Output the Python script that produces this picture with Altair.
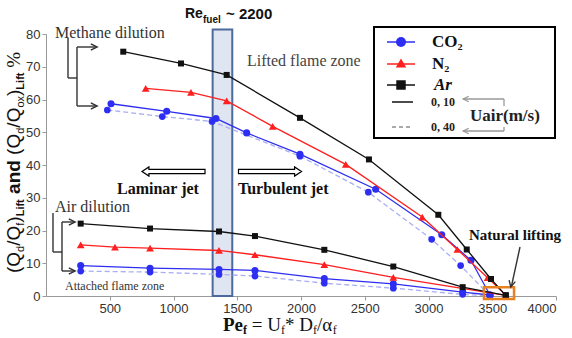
import altair as alt
import pandas as pd

# ---------------- data ----------------
# Methane dilution, (Qd/Qf)Lift %
meth_ar_pe = [606, 1059, 1417, 1992, 2533, 3077, 3300, 3490, 3606]
meth_ar_val = [74.6, 71.0, 67.5, 54.4, 41.7, 24.8, 14.2, 5.2, 0.2]
meth_n2_pe = [782, 1137, 1417, 1778, 2351, 2951, 3226, 3464, 3606]
meth_n2_val = [63.4, 62.2, 59.6, 51.8, 40.2, 24.1, 14.2, 5.6, 0.2]
meth_co2_u10_pe = [510, 947, 1333, 1574, 1992, 2586, 3104, 3333, 3482]
meth_co2_u10_val = [58.7, 56.4, 54.2, 49.8, 43.3, 32.6, 18.7, 10.9, 0.3]
meth_co2_u40_pe = [481, 912, 1302, 1992, 2528, 3025, 3252, 3482]
meth_co2_u40_val = [56.8, 54.8, 53.3, 42.7, 31.7, 17.3, 9.3, 0.0]
# Air dilution, (Qd/Qox)Lift %
air_ar_pe = [272, 816, 1357, 1639, 2183, 2724, 3268, 3606]
air_ar_val = [22.1, 20.6, 19.7, 18.3, 14.1, 9.0, 2.7, 0.2]
air_n2_pe = [272, 541, 816, 1357, 1639, 2183, 2724, 3606]
air_n2_val = [15.6, 14.9, 14.6, 13.9, 12.6, 9.6, 5.7, 0.2]
air_co2_u10_pe = [272, 816, 1357, 1639, 2183, 2724, 3268, 3482]
air_co2_u10_val = [9.3, 8.5, 8.1, 7.8, 5.3, 3.7, 1.2, 0.3]
air_co2_u40_pe = [272, 816, 1357, 1639, 2183, 2724, 3268, 3482]
air_co2_u40_val = [7.6, 7.3, 6.6, 6.1, 3.9, 2.4, 0.5, 0.0]

# Re_fuel ~ 2200 band and natural lifting box (data units)
re_band = {"lo": 1307, "hi": 1461, "bottom": 0, "top": 81.4}
lift_box = {"lo": 3435, "hi": 3671, "bottom": -0.9, "top": 2.7}

x_ticks = [500, 1000, 1500, 2000, 2500, 3000, 3500, 4000]
y_ticks = [0, 10, 20, 30, 40, 50, 60, 70, 80]

legend_gases = ["CO\u2082", "N\u2082", "Ar"]
legend_speeds = ["0, 10", "0, 40"]

# ---------------- styles ----------------
BLUE = "#2e2ef2"
RED = "#ff1f1f"
BLACK = "#111111"
LBLUE = "#a9aef3"
SERIF = "Liberation Serif"
SANS = "Liberation Sans"
PAD_L, PAD_T = 46, 34

xs = alt.Scale(domain=[0, 4000], nice=False, zero=False)
ys = alt.Scale(domain=[0, 80], nice=False, zero=False)
x_axis = alt.Axis(values=x_ticks, title=None, grid=False, format="d")
y_axis = alt.Axis(values=y_ticks, title=None, grid=False, format="d")

layers = []

# band
band_df = pd.DataFrame([re_band])
layers.append(
    alt.Chart(band_df).mark_rect(fill="#dfe5f1", stroke="#4d6a9c", strokeWidth=2)
    .encode(x=alt.X("lo:Q", scale=xs, axis=x_axis), x2="hi:Q",
            y=alt.Y("bottom:Q", scale=ys, axis=y_axis), y2="top:Q")
)


def series(pe, val, lcolor, mcolor, shape, msize, dash=None):
    df = pd.DataFrame({"pe": pe, "val": val})
    base = alt.Chart(df).encode(
        x=alt.X("pe:Q", scale=xs, axis=x_axis),
        y=alt.Y("val:Q", scale=ys, axis=y_axis),
    )
    lk = dict(color=lcolor, strokeWidth=1.3)
    if dash:
        lk["strokeDash"] = dash
    line = base.mark_line(**lk)
    pts_ = base.mark_point(shape=shape, filled=True, color=mcolor, size=msize, opacity=1)
    return [line, pts_]


layers += series(meth_co2_u40_pe, meth_co2_u40_val, LBLUE, BLUE, "circle", 45, [5, 3])
layers += series(air_co2_u40_pe, air_co2_u40_val, LBLUE, BLUE, "circle", 45, [5, 3])
layers += series(meth_co2_u10_pe, meth_co2_u10_val, BLUE, BLUE, "circle", 50)
layers += series(air_co2_u10_pe, air_co2_u10_val, BLUE, BLUE, "circle", 50)
layers += series(meth_n2_pe, meth_n2_val, RED, RED, "triangle-up", 60)
layers += series(air_n2_pe, air_n2_val, RED, RED, "triangle-up", 60)
layers += series(meth_ar_pe, meth_ar_val, BLACK, BLACK, "square", 36)
layers += series(air_ar_pe, air_ar_val, BLACK, BLACK, "square", 36)

# natural lifting box
box_df = pd.DataFrame([lift_box])
layers.append(
    alt.Chart(box_df).mark_rect(filled=False, stroke="#e8801e", strokeWidth=2.5, fillOpacity=0)
    .encode(x=alt.X("lo:Q", scale=xs, axis=x_axis), x2="hi:Q",
            y=alt.Y("bottom:Q", scale=ys, axis=y_axis), y2="top:Q")
)

# ---------------- page-pixel decorations (converted to plot-area pixels) ----------------
def PX(f):
    return alt.X(f, type="quantitative", scale=None, axis=None)


def PY(f):
    return alt.Y(f, type="quantitative", scale=None, axis=None)


def segs(rows, **kw):
    df = pd.DataFrame(rows, columns=["x", "y", "x2", "y2"])
    df[["x", "x2"]] -= PAD_L
    df[["y", "y2"]] -= PAD_T
    return alt.Chart(df).mark_rule(**kw).encode(x=PX("x"), y=PY("y"), x2="x2:Q", y2="y2:Q")


def texts(rows, **kw):
    df = pd.DataFrame(rows, columns=["t", "x", "y"])
    df["x"] -= PAD_L
    df["y"] -= PAD_T
    k = dict(align="left", baseline="middle")
    k.update(kw)
    return alt.Chart(df).mark_text(**k).encode(x=PX("x"), y=PY("y"), text="t:N")


def pts(rows, **kw):
    df = pd.DataFrame(rows, columns=["x", "y"])
    df["x"] -= PAD_L
    df["y"] -= PAD_T
    return alt.Chart(df).mark_point(**kw).encode(x=PX("x"), y=PY("y"))


CHEV_R = "M-1,-1L1,0L-1,1"
CHEV_L = "M1,-1L-1,0L1,1"
CHEV_D = "M-1,-1L0,1L1,-1"
ARROW_R = "M-1,-0.065L0.78,-0.065L0.78,-0.145L1,0L0.78,0.145L0.78,0.065L-1,0.065Z"
ARROW_L = "M1,-0.065L-0.78,-0.065L-0.78,-0.145L-1,0L-0.78,0.145L-0.78,0.065L1,0.065Z"

# brackets
layers.append(segs([
    (68, 38, 68, 78), (68, 78, 77, 78), (77, 47, 77, 106), (77, 47, 96, 47), (77, 106, 96, 106),
    (53, 213, 53, 252), (53, 252, 62, 252), (62, 222, 62, 271), (62, 222, 74, 222), (62, 271, 74, 271),
    (520, 247, 511.5, 286),
], color="#333333", strokeWidth=1.4))
layers.append(pts([(94, 47), (94, 106), (72, 222), (72, 271)], shape=CHEV_R, size=40,
                  filled=False, color="#333333", strokeWidth=1.4, opacity=1))
layers.append(pts([(511.5, 284)], shape=CHEV_D, size=40, angle=13,
                  filled=False, color="#333333", strokeWidth=1.4, opacity=1))

# laminar / turbulent hollow arrows
layers.append(pts([(173.5, 171.5)], shape=ARROW_L, size=3970, filled=True, fill="white",
                  stroke="black", strokeWidth=1.2, opacity=1))
layers.append(pts([(270, 171.5)], shape=ARROW_R, size=3970, filled=True, fill="white",
                  stroke="black", strokeWidth=1.2, opacity=1))

# annotation texts
layers.append(texts([("Methane dilution", 55, 33), ("Air dilution", 55, 207)],
                    font=SERIF, fontSize=16, color="#333333"))
layers.append(texts([("Lifted flame zone", 247, 61)], font=SERIF, fontSize=16, color="#444444"))
layers.append(texts([("Attached flame zone", 65, 286)], font=SERIF, fontSize=12, color="#333333"))
layers.append(texts([("Laminar jet", 117, 189), ("Turbulent jet", 238, 189)],
                    font=SERIF, fontSize=16, fontWeight="bold", color="#111111"))
layers.append(texts([("Natural lifting", 469, 235)], font=SERIF, fontSize=15,
                    fontWeight="bold", color="#111111"))

# Re_fuel ~ 2200 label
layers.append(texts([("Re", 185, 14)], font=SANS, fontSize=14, fontWeight="bold", color="#111111"))
layers.append(texts([("~ 2200", 226, 14)], font=SANS, fontSize=15, fontWeight="bold",
                    color="#111111"))
layers.append(texts([("fuel", 203, 20)], font=SANS, fontSize=10, fontWeight="bold", color="#111111"))

# ---------------- legend ----------------
leg_df = pd.DataFrame([(374, 27, 555, 138)], columns=["x", "y", "x2", "y2"])
leg_df[["x", "x2"]] -= PAD_L
leg_df[["y", "y2"]] -= PAD_T
layers.append(alt.Chart(leg_df).mark_rect(fill="white", stroke="black", strokeWidth=2)
              .encode(x=PX("x"), y=PY("y"), x2="x2:Q", y2="y2:Q"))
layers.append(segs([(387, 42, 415, 42)], color=BLUE, strokeWidth=1.5))
layers.append(segs([(387, 64, 415, 64)], color=RED, strokeWidth=1.5))
layers.append(segs([(387, 85, 415, 85), (392, 102, 413, 102)], color=BLACK, strokeWidth=1.5))
layers.append(segs([(392, 127, 413, 127)], color="#555555", strokeWidth=1.2, strokeDash=[4, 3]))
layers.append(pts([(401, 42)], shape="circle", size=100, filled=True, color=BLUE, opacity=1))
layers.append(pts([(401, 63)], shape="triangle-up", size=110, filled=True, color=RED, opacity=1))
layers.append(pts([(401, 85)], shape="square", size=90, filled=True, color=BLACK, opacity=1))
layers.append(texts([(legend_gases[0], 432, 42), (legend_gases[1], 432, 64)], font=SERIF,
                    fontSize=17, fontWeight="bold", color="#111111"))
layers.append(texts([(legend_gases[2], 434, 85)], font=SERIF, fontSize=17, fontWeight="bold",
                    fontStyle="italic", color="#111111"))
layers.append(texts([(legend_speeds[0], 431, 102), (legend_speeds[1], 431, 127)], font=SERIF,
                    fontSize=12, fontWeight="bold", color="#222222"))
layers.append(segs([(463, 99, 504, 99), (504, 99, 504, 106), (504, 127, 504, 131), (463, 131, 504, 131)],
                   color="#999999", strokeWidth=1.3))
layers.append(pts([(466, 99), (466, 131)], shape=CHEV_L, size=30, filled=False,
                  color="#999999", strokeWidth=1.3, opacity=1))
layers.append(texts([("Uair(m/s)", 470, 116)], font=SERIF, fontSize=17, fontWeight="bold",
                    color="#222222"))

# ---------------- axis titles built from runs (with subscripts) ----------------
W = {
    ("sans", "normal"): {"(": .333, "Q": .778, "/": .278, ")": .333, "d": .556, "f": .278,
                         "o": .556, "x": .5, " ": .278},
    ("sans", "bold"): {"L": .611, "i": .278, "f": .333, "t": .333, "a": .556, "n": .611,
                       "d": .611, " ": .278},
    ("serif", "normal"): {"%": .833, " ": .25, "=": .564, "U": .722, "*": .5, "D": .722,
                          "/": .278, "\u03b1": .55, "f": .333},
    ("serif", "bold"): {"P": .611, "e": .444, "f": .333, " ": .25},
}


def run_width(t, size, fam, wt):
    return sum(W[(fam, wt)].get(c, .5) for c in t) * size


def lead_width(t, size, fam, wt):
    n = len(t) - len(t.lstrip(" "))
    return n * W[(fam, wt)].get(" ", .25) * size


# y title: reads bottom to top (SVG drops leading/trailing blanks, so offset for them)
MS, SS = 19, 11
y_runs = [("(Q", MS, "sans", "normal", False), ("d", SS, "sans", "normal", True),
          ("/Q", MS, "sans", "normal", False), ("f", SS, "sans", "normal", True),
          (")", MS, "sans", "normal", False), ("Lift", SS, "sans", "bold", True),
          (" and ", MS, "sans", "bold", False), ("(Q", MS, "sans", "normal", False),
          ("d", SS, "sans", "normal", True), ("/Q", MS, "sans", "normal", False),
          ("ox", SS, "sans", "normal", True), (")", MS, "sans", "normal", False),
          ("Lift", SS, "sans", "bold", True), (" %", MS, "serif", "normal", False)]
pos = 273.0
for t, size, fam, wt, sub in y_runs:
    xb = 23.5 if sub else 20
    start = pos - lead_width(t, size, fam, wt)
    layers.append(texts([(t.strip(" "), xb, start)], font=SANS if fam == "sans" else SERIF,
                        fontSize=size, fontWeight=wt, angle=270, baseline="alphabetic",
                        color="#111111"))
    pos -= run_width(t, size, fam, wt)

# x title
x_runs = [("Pe", 19, "serif", "bold", False), ("f", 12, "serif", "bold", True),
          (" = U", 19, "serif", "normal", False), ("f", 12, "serif", "normal", True),
          ("* D", 19, "serif", "normal", False), ("f", 12, "serif", "normal", True),
          ("/\u03b1", 19, "serif", "normal", False), ("f", 12, "serif", "normal", True)]
pos = 223.0
for t, size, fam, wt, sub in x_runs:
    yb = 334 if sub else 331
    start = pos + lead_width(t, size, fam, wt)
    layers.append(texts([(t.strip(" "), start, yb)], font=SERIF, fontSize=size, fontWeight=wt,
                        baseline="alphabetic", color="#111111"))
    pos += run_width(t, size, fam, wt)

chart = alt.layer(*layers).properties(
    width=510, height=262,
    padding={"left": PAD_L, "top": PAD_T, "right": 16, "bottom": 42},
    autosize=alt.AutoSizeParams(type="none"),
    background="white",
).configure_view(stroke=None).configure_axis(
    labelFont=SANS, labelFontSize=13, labelColor="#333333",
    domainColor="#9a9a9a", tickColor="#9a9a9a", tickSize=4, labelPadding=2,
)

chart.save("out.html", embed_options={"renderer": "svg", "actions": False})
